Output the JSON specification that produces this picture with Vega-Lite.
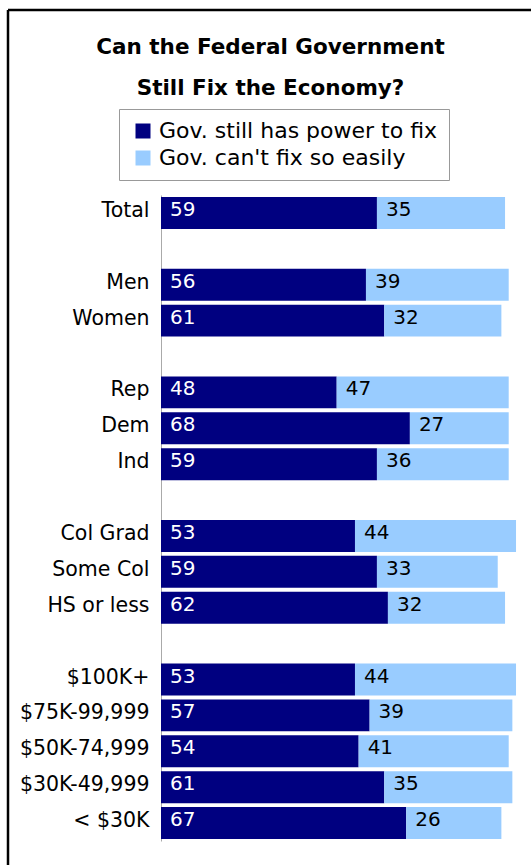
{
  "$schema": "https://vega.github.io/schema/vega-lite/v6.json",
  "autosize": "none",
  "padding": {"left": 8, "top": 10, "right": 0, "bottom": 0},
  "width": 523,
  "height": 855,
  "background": "white",
  "config": {
    "font": "DejaVu Sans",
    "view": {"stroke": "black", "strokeWidth": 2.5, "strokeDash": [523, 1378, 855, 0]}
  },
  "title": {
    "text": ["Can the Federal Government", "Still Fix the Economy?"],
    "anchor": "middle",
    "frame": "group",
    "orient": "top",
    "offset": -89,
    "dx": 1,
    "fontSize": 21.5,
    "fontWeight": "bold",
    "lineHeight": 41,
    "color": "black",
    "font": "DejaVu Sans"
  },
  "data": {
    "values": [
      {"group": "Total", "series": "Gov. still has power to fix", "value": 59},
      {"group": "Total", "series": "Gov. can't fix so easily", "value": 35},
      {"group": "Men", "series": "Gov. still has power to fix", "value": 56},
      {"group": "Men", "series": "Gov. can't fix so easily", "value": 39},
      {"group": "Women", "series": "Gov. still has power to fix", "value": 61},
      {"group": "Women", "series": "Gov. can't fix so easily", "value": 32},
      {"group": "Rep", "series": "Gov. still has power to fix", "value": 48},
      {"group": "Rep", "series": "Gov. can't fix so easily", "value": 47},
      {"group": "Dem", "series": "Gov. still has power to fix", "value": 68},
      {"group": "Dem", "series": "Gov. can't fix so easily", "value": 27},
      {"group": "Ind", "series": "Gov. still has power to fix", "value": 59},
      {"group": "Ind", "series": "Gov. can't fix so easily", "value": 36},
      {"group": "Col Grad", "series": "Gov. still has power to fix", "value": 53},
      {"group": "Col Grad", "series": "Gov. can't fix so easily", "value": 44},
      {"group": "Some Col", "series": "Gov. still has power to fix", "value": 59},
      {"group": "Some Col", "series": "Gov. can't fix so easily", "value": 33},
      {"group": "HS or less", "series": "Gov. still has power to fix", "value": 62},
      {"group": "HS or less", "series": "Gov. can't fix so easily", "value": 32},
      {"group": "$100K+", "series": "Gov. still has power to fix", "value": 53},
      {"group": "$100K+", "series": "Gov. can't fix so easily", "value": 44},
      {"group": "$75K-99,999", "series": "Gov. still has power to fix", "value": 57},
      {"group": "$75K-99,999", "series": "Gov. can't fix so easily", "value": 39},
      {"group": "$50K-74,999", "series": "Gov. still has power to fix", "value": 54},
      {"group": "$50K-74,999", "series": "Gov. can't fix so easily", "value": 41},
      {"group": "$30K-49,999", "series": "Gov. still has power to fix", "value": 61},
      {"group": "$30K-49,999", "series": "Gov. can't fix so easily", "value": 35},
      {"group": "< $30K", "series": "Gov. still has power to fix", "value": 67},
      {"group": "< $30K", "series": "Gov. can't fix so easily", "value": 26}
    ]
  },
  "transform": [
    {"stack": "value", "groupby": ["group"], "sort": [{"field": "series", "order": "descending"}], "as": ["v0", "v1"]}
  ],
  "encoding": {
    "y": {
      "field": "group",
      "type": "nominal",
      "scale": {
        "domain": ["Total", " ", "Men", "Women", "  ", "Rep", "Dem", "Ind", "   ", "Col Grad", "Some Col", "HS or less", "    ", "$100K+", "$75K-99,999", "$50K-74,999", "$30K-49,999", "< $30K"],
        "range": [185, 831],
        "paddingInner": 0.11,
        "paddingOuter": 0.055
      },
      "axis": {
        "title": null,
        "offset": -153,
        "ticks": false,
        "domainColor": "#aaaaaa",
        "domainWidth": 1,
        "labelFont": "DejaVu Sans",
        "labelFontSize": 20.5,
        "labelColor": "black",
        "labelPadding": 12,
        "labelBaseline": "alphabetic",
        "labelOffset": 4,
        "labelLimit": 200
      }
    }
  },
  "layer": [
    {
      "mark": {"type": "bar"},
      "encoding": {
        "x": {"field": "v0", "type": "quantitative", "scale": {"domain": [0, 100], "range": [153, 519], "nice": false}, "axis": null},
        "x2": {"field": "v1"},
        "color": {
          "field": "series",
          "type": "nominal",
          "scale": {"domain": ["Gov. still has power to fix", "Gov. can't fix so easily"], "range": ["#000080", "#99ccff"]},
          "legend": {
            "orient": "none",
            "legendX": 111,
            "legendY": 99,
            "title": null,
            "symbolType": "square",
            "symbolSize": 225,
            "symbolStrokeWidth": 0,
            "labelFont": "DejaVu Sans",
            "labelFontSize": 22,
            "labelColor": "black",
            "labelOffset": 5,
            "labelLimit": 400,
            "symbolOffset": 2,
            "rowPadding": 5,
            "padding": 11,
            "strokeColor": "#999999"
          }
        }
      }
    },
    {
      "mark": {"type": "text", "align": "left", "baseline": "alphabetic", "dx": 9, "dy": 3, "fontSize": 20, "font": "DejaVu Sans"},
      "encoding": {
        "x": {"field": "v0", "type": "quantitative", "axis": null},
        "text": {"field": "value", "type": "quantitative"},
        "color": {"condition": {"test": "datum.series === 'Gov. still has power to fix'", "value": "white"}, "value": "black"}
      }
    }
  ]
}
